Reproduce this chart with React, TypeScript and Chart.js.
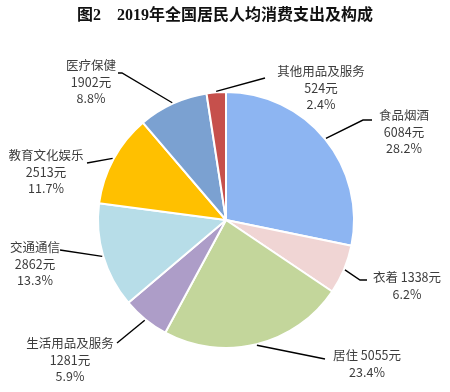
import React, { useEffect, useRef } from "react";
import { Chart, registerables } from "chart.js";

Chart.register(...registerables);

const categories = ["食品烟酒", "衣着", "居住", "生活用品及服务", "交通通信", "教育文化娱乐", "医疗保健", "其他用品及服务"];
const amounts = [6084, 1338, 5055, 1281, 2862, 2513, 1902, 524];
const shares = ["28.2%", "6.2%", "23.4%", "5.9%", "13.3%", "11.7%", "8.8%", "2.4%"];
const colors = ["#8DB5F2", "#F0D5D4", "#C3D69B", "#AD9DC8", "#B7DDE8", "#FFC000", "#7BA1D1", "#C6504C"];

const titleLeft = "图2";
const titleRight = "2019年全国居民人均消费支出及构成";

// label layout: text lines grouping, center x, first-line y, leader polyline (after arc anchor)
const labelLayout = [
  { lines: (i: number) => [categories[i], amounts[i] + "元", shares[i]], cx: 404, y: 115, path: [[363, 120], [372, 120]] },
  { lines: (i: number) => [categories[i] + " " + amounts[i] + "元", shares[i]], cx: 407, y: 277, path: [[360, 280], [367, 280]] },
  { lines: (i: number) => [categories[i] + " " + amounts[i] + "元", shares[i]], cx: 367, y: 355, path: [[325, 359]] },
  { lines: (i: number) => [categories[i], amounts[i] + "元", shares[i]], cx: 70, y: 343, path: [[117, 343]] },
  { lines: (i: number) => [categories[i], amounts[i] + "元", shares[i]], cx: 35, y: 247, path: [[60, 250]] },
  { lines: (i: number) => [categories[i], amounts[i] + "元", shares[i]], cx: 46, y: 155, path: [[87, 163]] },
  { lines: (i: number) => [categories[i], amounts[i] + "元", shares[i]], cx: 91, y: 65, path: [[122, 73], [118, 73]] },
  { lines: (i: number) => [categories[i], amounts[i] + "元", shares[i]], cx: 321, y: 71, path: [[265, 78]] },
];

const labelsPlugin = {
  id: "pieLabels",
  afterDraw(chart: any) {
    const ctx = chart.ctx;
    const meta = chart.getDatasetMeta(0);
    ctx.save();
    // title
    ctx.fillStyle = "#111";
    ctx.font = "bold 16px 'Liberation Serif', 'Noto Sans CJK SC', serif";
    ctx.textBaseline = "middle";
    ctx.textAlign = "left";
    ctx.fillText(titleLeft, 77, 16);
    ctx.fillText(titleRight, 117, 16);

    meta.data.forEach((arc: any, i: number) => {
      const { x, y, startAngle, endAngle, outerRadius } = arc.getProps(["x", "y", "startAngle", "endAngle", "outerRadius"], true);
      const mid = (startAngle + endAngle) / 2;
      const r = outerRadius + 1;
      const sx = x + Math.cos(mid) * r;
      const sy = y + Math.sin(mid) * r;
      const lay = labelLayout[i];
      ctx.beginPath();
      ctx.strokeStyle = "#000";
      ctx.lineWidth = 1.4;
      ctx.moveTo(sx, sy);
      lay.path.forEach((p) => ctx.lineTo(p[0], p[1]));
      ctx.stroke();

      ctx.fillStyle = "#3c3c3c";
      ctx.font = "12.5px 'Noto Sans CJK SC', sans-serif";
      ctx.textAlign = "center";
      ctx.textBaseline = "middle";
      lay.lines(i).forEach((t, k) => ctx.fillText(t, lay.cx, lay.y + k * 16.8));
    });
    ctx.restore();
  },
};

export default function App() {
  const ref = useRef<HTMLCanvasElement | null>(null);
  useEffect(() => {
    document.body.style.margin = "0";
    const chart = new Chart(ref.current as HTMLCanvasElement, {
      type: "pie",
      data: {
        labels: categories,
        datasets: [
          {
            data: amounts,
            backgroundColor: colors,
            borderColor: "#ffffff",
            borderWidth: 2,
          },
        ],
      },
      options: {
        responsive: false,
        animation: false,
        layout: { padding: { top: 91, bottom: 43, left: 97, right: 95 } },
        plugins: { legend: { display: false }, tooltip: { enabled: false }, title: { display: false } },
      },
      plugins: [labelsPlugin],
    });
    return () => chart.destroy();
  }, []);
  return (
    <div style={{ width: 450, height: 392, background: "#fff" }}>
      <canvas ref={ref} width={450} height={392} />
    </div>
  );
}
